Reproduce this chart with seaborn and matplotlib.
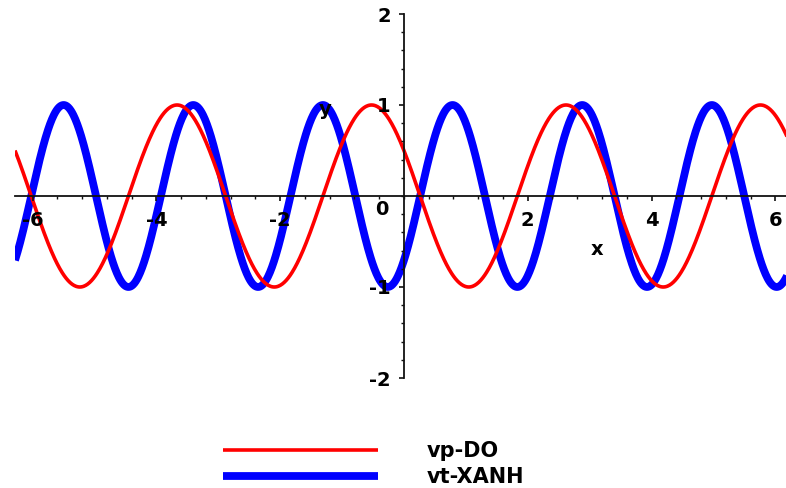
import numpy as np
import pandas as pd
import matplotlib
matplotlib.use("Agg")
import matplotlib.pyplot as plt
from matplotlib.ticker import MultipleLocator, FixedLocator
import seaborn as sns

# Two sinusoids y = A*sin(w*x + phi), plotted over one full turn each side of 0
series_names = ["vp-DO", "vt-XANH"]
amplitudes = [1.0, 1.0]
ang_freqs = [2.0, 3.0]
phases = [5 * np.pi / 6, -np.pi / 4]
series_colors = ["#ff0000", "#0000ff"]
series_widths = [2.6, 5.6]
series_z = [1.6, 1.2]

x_range = (-2 * np.pi, 2 * np.pi)
y_range = (-2.0, 2.0)
x_tick_values = [-6, -4, -2, 2, 4, 6]
y_tick_values = [-2, -1, 1, 2]

sns.set_theme(style="white")
plt.rcParams["font.family"] = ["DejaVu Sans"]
plt.rcParams["font.weight"] = "bold"
plt.rcParams["text.color"] = "black"
plt.rcParams["axes.unicode_minus"] = False
plt.rcParams["lines.solid_capstyle"] = "butt"

x = np.linspace(x_range[0], x_range[1], 1200)
frames = []
for name, a, w, p in zip(series_names, amplitudes, ang_freqs, phases):
    frames.append(pd.DataFrame({"x": x, "y": a * np.sin(w * x + p), "curve": name}))
df = pd.concat(frames, ignore_index=True)

W, H = 786, 488
fig = plt.figure(figsize=(W / 100, H / 100), dpi=100)
fig.patch.set_facecolor("white")

# axes placed in pixel terms: x from -2pi at px 15, ~61.9 px per unit
px_per_x = 61.9
left_px = 15
width_px = (x_range[1] - x_range[0]) * px_per_x
top_px, bottom_px = 14, 378
ax = fig.add_axes([left_px / W, (H - bottom_px) / H, width_px / W, (bottom_px - top_px) / H])
ax.set_facecolor("white")
ax.set_axisbelow(False)

for name, col, lw, z in zip(series_names, series_colors, series_widths, series_z):
    sns.lineplot(data=df[df["curve"] == name], x="x", y="y", color=col,
                 linewidth=lw, label=name, ax=ax, zorder=z, estimator=None,
                 sort=False)

ax.set_xlim(*x_range)
ax.set_ylim(*y_range)

# axes through the origin, drawn above the curves
for side in ["top", "right"]:
    ax.spines[side].set_visible(False)
for side in ["left", "bottom"]:
    ax.spines[side].set_position(("data", 0))
    ax.spines[side].set_color("#111111")
    ax.spines[side].set_linewidth(1.3)
    ax.spines[side].set_zorder(3)
ax.xaxis.set_zorder(3.5)
ax.yaxis.set_zorder(3.5)

ax.xaxis.set_major_locator(FixedLocator(x_tick_values))
ax.yaxis.set_major_locator(FixedLocator(y_tick_values))
ax.xaxis.set_minor_locator(MultipleLocator(0.4))
ax.yaxis.set_minor_locator(MultipleLocator(0.2))
ax.tick_params(axis="both", which="both", bottom=True, left=True, top=False, right=False)
ax.tick_params(axis="both", which="major", direction="out", length=3.5, width=1.2,
               color="#111111", labelsize=14, labelcolor="black")
ax.tick_params(axis="both", which="minor", direction="out", length=2.5, width=1.0,
               color="#111111")
ax.tick_params(axis="x", which="major", pad=7)
ax.tick_params(axis="y", which="major", pad=6)
ax.set_xticklabels([str(v) for v in x_tick_values], fontweight="bold")
ax.set_yticklabels([str(v) for v in y_tick_values], fontweight="bold")
ax.set_xlabel("")
ax.set_ylabel("")

ax.text(-0.36, -0.15, "0", fontsize=14, fontweight="bold", ha="center", va="center", zorder=4)
ax.text(3.12, -0.59, "x", fontsize=14, fontweight="bold", ha="center", va="center", zorder=4)
ax.text(-1.28, 0.95, "y", fontsize=14, fontweight="bold", ha="center", va="center", zorder=4)

leg = ax.legend(loc="upper left", bbox_to_anchor=(223 / W, 1 - 441 / H),
                bbox_transform=fig.transFigure, frameon=False, borderpad=0,
                borderaxespad=0, handlelength=7.45, handletextpad=2.35,
                labelspacing=0.28, prop={"size": 15, "weight": "bold"})
for t in leg.get_texts():
    t.set_color("black")

fig.savefig("out.png", dpi=100, facecolor="white")
